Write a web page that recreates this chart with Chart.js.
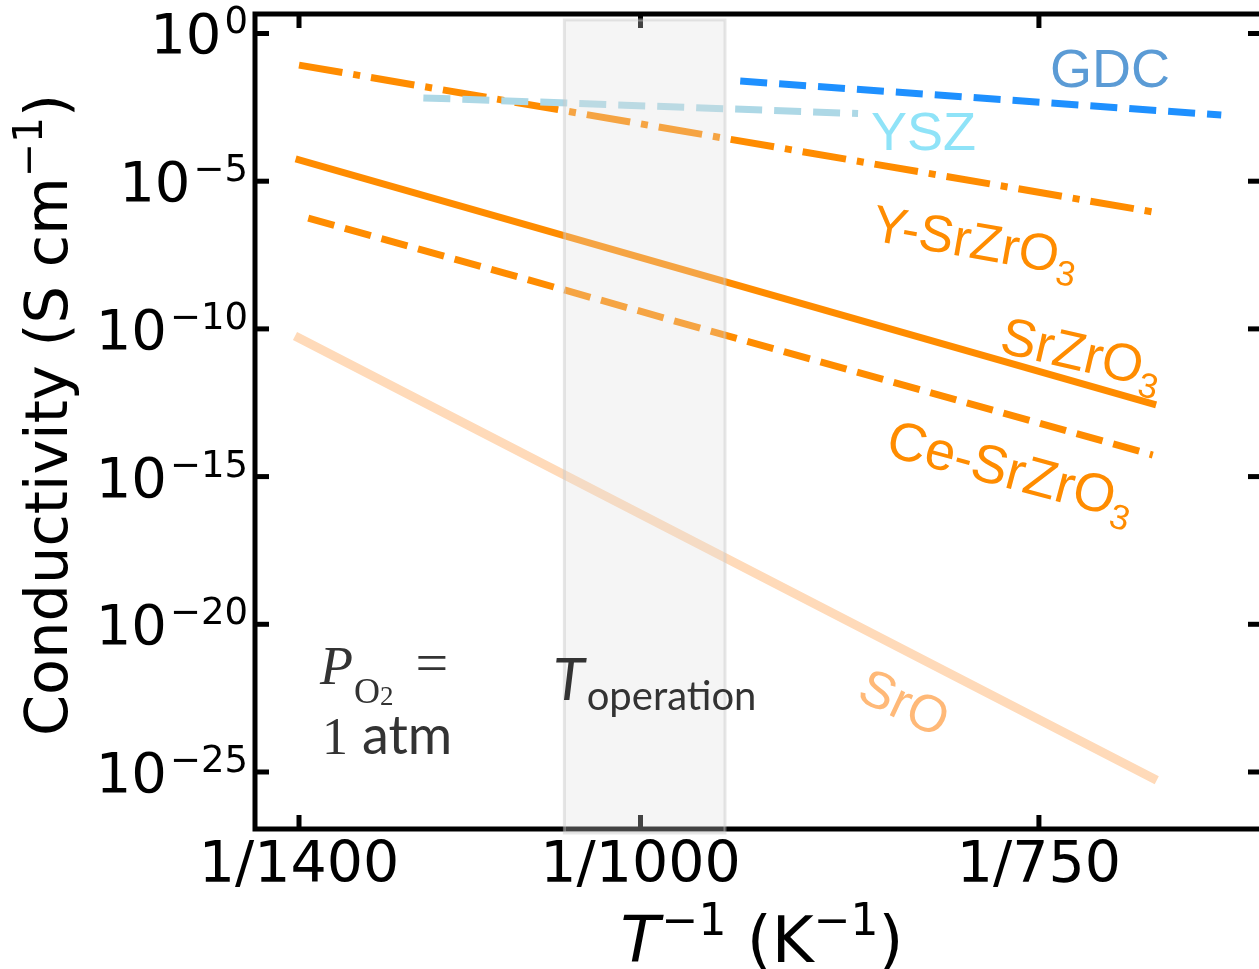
<!DOCTYPE html>
<html><head><meta charset="utf-8">
<script src="https://cdn.jsdelivr.net/npm/chart.js@4.4.0/dist/chart.umd.min.js"></script>
<style>html,body{margin:0;padding:0;overflow:hidden;background:#fff}#wrap{position:absolute;left:0;top:0;width:1270px;height:969px}</style>
</head><body><div id="wrap"><canvas id="c" width="1270" height="969"></canvas></div>
<script>
// ---------------- data ----------------
const xTickTemps = [1400, 1000, 750];              // K; ticks placed at 1/T
const yTickExps  = [0, -5, -10, -15, -20, -25];    // log10 of conductivity ticks
const ySrZrO3_T  = [1400, 700];  const ySrZrO3_log  = [-1.07, -6.04];
const srZrO3_T   = [1400, 700];  const srZrO3_log   = [-4.28, -12.54];
const ceSrZrO3_T = [1385, 700];  const ceSrZrO3_log = [-6.25, -14.27];
const srO_T      = [1400, 700];  const srO_log      = [-10.31, -25.21];
const ysz_T      = [1222, 846];  const ysz_log      = [-2.18, -2.71];
const gdc_T      = [923, 673];   const gdc_log      = [-1.61, -2.76];
const operationT = [1068, 934];                    // shaded operating window (K)
const xRange     = [0.000677473, 0.001519975];     // 1/T axis range
const yRangeExp  = [-26.93, 0.66];                 // log10 axis range

const pts = (T, L) => T.map((t, i) => ({x: 1 / t, y: Math.pow(10, L[i])}));
const ORANGE = '#ff8c00';
function ds(data, color, width, dash, cap) {
  return {data, showLine: true, borderColor: color, borderWidth: width, borderDash: dash,
          borderCapStyle: cap || 'butt', pointRadius: 0, fill: false, tension: 0};
}

function rich(ctx, parts, x, y, align, angle) {
  ctx.save();
  ctx.translate(x, y);
  ctx.rotate((angle || 0) * Math.PI / 180);
  let w = 0;
  parts.forEach(p => { ctx.font = p[1]; w += ctx.measureText(p[0]).width + (p[4] || 0); });
  let cx = align === 'right' ? -w : align === 'center' ? -w / 2 : 0;
  ctx.textBaseline = 'alphabetic'; ctx.textAlign = 'left';
  parts.forEach(p => {
    ctx.font = p[1]; ctx.fillStyle = p[3] || '#000';
    ctx.fillText(p[0], cx, p[2]);
    cx += ctx.measureText(p[0]).width + (p[4] || 0);
  });
  ctx.restore();
}

const framePlugin = {
  id: 'frame',
  afterDraw(chart) {
    const {ctx, chartArea: a, scales: {x, y}} = chart;
    ctx.save();
    const line = (x1, y1, x2, y2) => { ctx.beginPath(); ctx.moveTo(x1, y1); ctx.lineTo(x2, y2); ctx.stroke(); };
    ctx.strokeStyle = '#000'; ctx.lineWidth = 5;
    ctx.strokeRect(a.left, a.top, a.right - a.left, a.bottom - a.top);
    const tl = 14;
    x.ticks.forEach(t => { const px = x.getPixelForValue(t.value); line(px, a.bottom, px, a.bottom - tl); line(px, a.top, px, a.top + tl); });
    y.ticks.forEach(t => { const py = y.getPixelForValue(t.value); line(a.left, py, a.left + tl, py); line(a.right, py, a.right - tl, py); });

    // operation window
    const x0 = x.getPixelForValue(1 / operationT[0]), x1 = x.getPixelForValue(1 / operationT[1]);
    const top = a.top + 6, bot = a.bottom + 4;
    ctx.fillStyle = 'rgba(222,222,222,0.3)';
    ctx.fillRect(x0, top, x1 - x0, bot - top);
    ctx.strokeStyle = 'rgba(200,200,200,0.45)'; ctx.lineWidth = 3;
    ctx.strokeRect(x0, top, x1 - x0, bot - top);

    // tick labels
    const F = '56px "DejaVu Sans"', FS = '37px "DejaVu Sans"';
    x.ticks.forEach((t, i) => {
      rich(ctx, [['1/' + xTickTemps[i], '57px "DejaVu Sans"', 0, '#000']], x.getPixelForValue(t.value), 882, 'center');
    });
    y.ticks.forEach((t, i) => {
      const e = yTickExps[i];
      const es = e === 0 ? '0' : '\u2212' + Math.abs(e);
      rich(ctx, [['10', F, 0, '#000', 3], [es, FS, -20, '#000']], 248, y.getPixelForValue(t.value) + 20, 'right');
    });

    // axis titles
    rich(ctx, [['T', 'italic 64px "DejaVu Sans"', 0, '#000', 2], ['\u22121', '44px "DejaVu Sans"', -27, '#000'],
               [' (K', '64px "DejaVu Sans"', 0, '#000'], ['\u22121', '44px "DejaVu Sans"', -27, '#000'],
               [')', '64px "DejaVu Sans"', 0, '#000']], 762, 962, 'center');
    rich(ctx, [['Conductivity (S cm', '59px "DejaVu Sans"', 0, '#000'], ['\u22121', '41px "DejaVu Sans"', -25, '#000'],
               [')', '59px "DejaVu Sans"', 0, '#000']], 67, 415, 'center', -90);

    // annotations
    const A = '"Liberation Sans"';
    rich(ctx, [['GDC', '54px ' + A, 0, '#5b9bd5']], 1050, 87);
    rich(ctx, [['YSZ', '54px ' + A, 0, '#8fe3f8']], 871, 150);
    rich(ctx, [['Y-SrZrO', '52px ' + A, 0, ORANGE], ['3', '35px ' + A, 11, ORANGE]], 870, 240, 'left', 10);
    rich(ctx, [['SrZrO', '53px ' + A, 0, ORANGE], ['3', '35px ' + A, 11, ORANGE]], 998, 352, 'left', 13);
    rich(ctx, [['Ce-SrZrO', '54px ' + A, 0, ORANGE], ['3', '35px ' + A, 11, ORANGE]], 884, 455, 'left', 15);
    rich(ctx, [['SrO', '52px ' + A, 0, '#ffb978']], 855, 699, 'left', 25);

    const G = '#333';
    rich(ctx, [['P', 'italic 54px "Liberation Serif"', 0, G, 1], ['O', '36px "Liberation Serif"', 19, G],
               ['2', '27px "Liberation Serif"', 21, G, 22], ['=', '58px "Liberation Serif"', -2, G]], 320, 684);
    rich(ctx, [['1', '52px "Liberation Serif"', 0, G, 14], ['atm', '54px Lato', 0, G]], 322, 754);
    rich(ctx, [['T', 'italic 58px Lato', 0, G, 2], ['operation', '40px Lato', 10, G]], 553, 700);
    ctx.restore();
  }
};

new Chart(document.getElementById('c'), {
  type: 'scatter',
  data: {datasets: [
    ds(pts(srO_T, srO_log), '#ffdab9', 9, [], 'square'),
    ds(pts(ceSrZrO3_T, ceSrZrO3_log), ORANGE, 7, [27, 11]),
    ds(pts(srZrO3_T, srZrO3_log), ORANGE, 7, [], 'square'),
    ds(pts(ysz_T, ysz_log), '#add8e6', 7, [27, 12]),
    ds(pts(ySrZrO3_T, ySrZrO3_log), ORANGE, 7, [44, 11, 7, 11]),
    ds(pts(gdc_T, gdc_log), '#1e90ff', 7, [27, 12])
  ]},
  options: {
    responsive: false, animation: false, devicePixelRatio: 1,
    layout: {padding: {top: 14, right: 8, left: 0, bottom: 0}},
    plugins: {legend: {display: false}, tooltip: {enabled: false}},
    scales: {
      x: {type: 'linear', min: xRange[0], max: xRange[1], grid: {display: false}, border: {display: false},
          ticks: {display: false},
          afterBuildTicks: s => { s.ticks = xTickTemps.map(t => ({value: 1 / t})); },
          afterFit: s => { s.height = 140; }},
      y: {type: 'logarithmic', min: Math.pow(10, yRangeExp[0]), max: Math.pow(10, yRangeExp[1]),
          grid: {display: false}, border: {display: false}, ticks: {display: false},
          afterBuildTicks: s => { s.ticks = yTickExps.map(e => ({value: Math.pow(10, e)})); },
          afterFit: s => { s.width = 255; }}
    }
  },
  plugins: [framePlugin]
});
</script></body></html>
